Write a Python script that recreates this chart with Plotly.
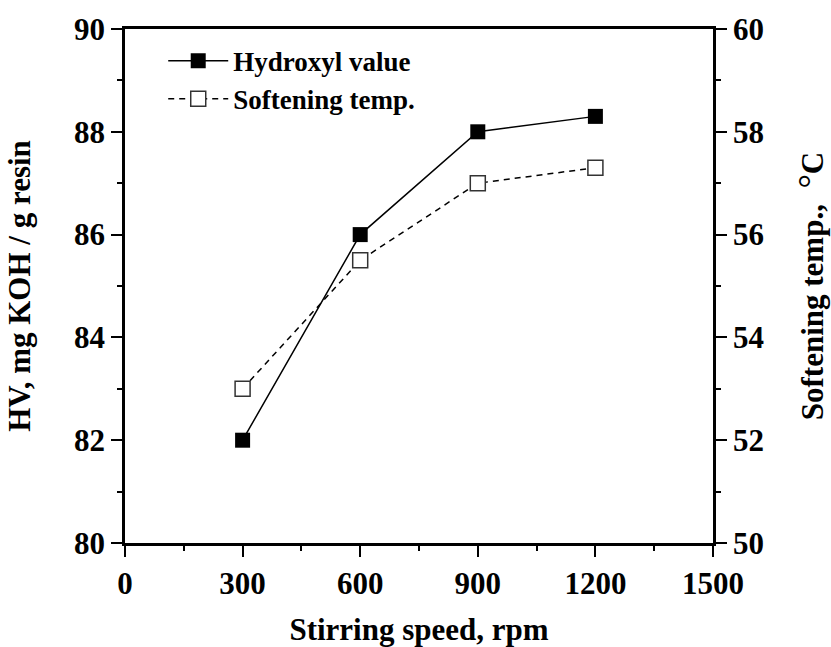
import plotly.graph_objects as go

speed = [300, 600, 900, 1200]
hydroxyl = [82.0, 86.0, 88.0, 88.3]
softening = [53.0, 55.5, 57.0, 57.3]

x_ticks = [0, 300, 600, 900, 1200, 1500]
hv_ticks = [80, 82, 84, 86, 88, 90]
st_ticks = [50, 52, 54, 56, 58, 60]

FONT = "Liberation Serif"

fig = go.Figure()
fig.add_trace(go.Scatter(
    x=speed, y=hydroxyl, name="<b>Hydroxyl value</b>", mode="lines+markers",
    line=dict(color="black", width=1.5),
    marker=dict(symbol="square", size=15, color="black"),
))
fig.add_trace(go.Scatter(
    x=speed, y=softening, name="<b>Softening temp.</b>", mode="lines+markers", yaxis="y2",
    line=dict(color="black", width=1.5, dash="6px,5px"),
    marker=dict(symbol="square", size=15, color="white", line=dict(color="#333", width=1.5)),
))

tickfont = dict(family=FONT, size=31, color="black")
titlefont = dict(family=FONT, size=31, color="black")


def bold(vals):
    return ["<b>%s</b>" % v for v in vals]


fig.update_layout(
    width=831, height=647,
    margin=dict(l=125, r=118, t=29, b=104),
    paper_bgcolor="white", plot_bgcolor="white",
    showlegend=True,
    legend=dict(
        x=0.065, y=0.985, xanchor="left", yanchor="top",
        bgcolor="rgba(0,0,0,0)", borderwidth=0,
        font=dict(family=FONT, size=27, color="black"),
        itemwidth=60, tracegroupgap=0,
    ),
    xaxis=dict(
        range=[0, 1500], tickvals=x_ticks, ticktext=bold(x_ticks),
        showline=True, linecolor="black", linewidth=2.5, mirror=True,
        ticks="outside", ticklen=11, tickwidth=2, tickcolor="black",
        minor=dict(ticks="outside", ticklen=5, tickwidth=2, dtick=150, tickcolor="black"),
        showgrid=False, zeroline=False, tickfont=tickfont, automargin=False,
        title=dict(text="<b>Stirring speed, rpm</b>", font=titlefont, standoff=25),
    ),
    yaxis=dict(
        range=[80, 90], tickvals=hv_ticks, ticktext=bold(hv_ticks),
        showline=True, linecolor="black", linewidth=2.5,
        ticks="outside", ticklen=11, tickwidth=2, tickcolor="black",
        minor=dict(ticks="outside", ticklen=5, tickwidth=2, dtick=1, tickcolor="black"),
        showgrid=False, zeroline=False, tickfont=tickfont, automargin=False,
        title=dict(text="<b>HV, mg KOH / g resin</b>", font=titlefont, standoff=35),
    ),
    yaxis2=dict(
        range=[50, 60], tickvals=st_ticks, ticktext=bold(st_ticks), overlaying="y", side="right",
        showline=True, linecolor="black", linewidth=2.5,
        ticks="outside", ticklen=11, tickwidth=2, tickcolor="black",
        minor=dict(ticks="outside", ticklen=5, tickwidth=2, dtick=1, tickcolor="black"),
        showgrid=False, zeroline=False, tickfont=tickfont, automargin=False,
        title=dict(
            text="<b>Softening temp.,\u00a0\u00a0</b><span style='font-size:36px'>°</span><b>C</b>",
            font=titlefont, standoff=40,
        ),
    ),
)

fig.write_html("out.html")
